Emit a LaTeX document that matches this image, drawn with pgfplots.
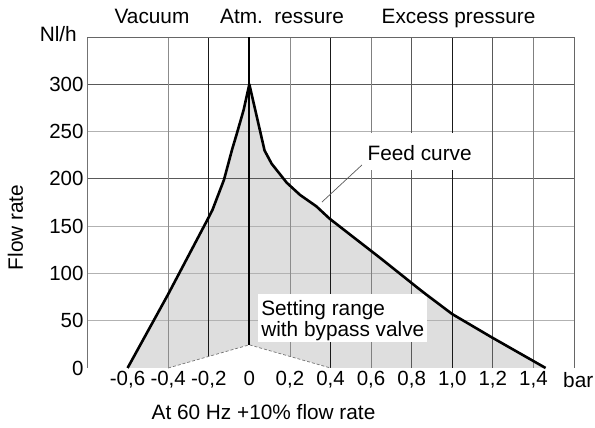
\documentclass[border=0pt]{standalone}
\usepackage{pgfplots}
\usepackage{pgfplotstable}
\pgfplotsset{compat=1.18}
\usepackage{fontspec}
\setmainfont{Liberation Sans}
\pgfplotstableread{
x y
-0.6 0
-0.4 78
-0.206 157
-0.182 167
-0.125 199
-0.085 231
-0.06 249
-0.028 273
0 300
0.029 273
0.075 230
0.11 216
0.184 196
0.25 183
0.33 171
0.395 158
0.647 116
0.834 84
0.87 78
1.0 57
1.19 33
1.46 0
}\curve
\begin{document}
\begin{tikzpicture}[font=\fontsize{20.8bp}{24bp}\selectfont]
\begin{axis}[
  at={(0,0)}, anchor=south west,
  scale only axis, width=487bp, height=331bp,
  xmin=-0.8, xmax=1.6, ymin=0, ymax=350,
  axis line style={draw=none},
  tick style={draw=none},
  xtick={-0.6,-0.4,-0.2,0,0.2,0.4,0.6,0.8,1.0,1.2,1.4},
  xticklabels={{-0,6},{-0,4},{-0,2},{0},{0,2},{0,4},{0,6},{0,8},{1,0},{1,2},{1,4}},
  ytick={0,50,100,150,200,250,300},
  yticklabels={0,50,100,150,200,250,300},
  tick label style={font=\fontsize{20.5bp}{24bp}\selectfont},
  clip=false,
]
% shaded area
\addplot[fill=black!13, draw=none] table {\curve} \closedcycle;
% horizontal grid
\draw[black!30, line width=0.8pt] (axis cs:-0.8,50) -- (axis cs:1.6,50);
\draw[black!30, line width=0.8pt] (axis cs:-0.8,100) -- (axis cs:1.6,100);
\draw[black!30, line width=0.8pt] (axis cs:-0.8,150) -- (axis cs:1.6,150);
\draw[black!65, line width=0.8pt] (axis cs:-0.8,200) -- (axis cs:1.6,200);
\draw[black!30, line width=0.8pt] (axis cs:-0.8,250) -- (axis cs:1.6,250);
\draw[black!65, line width=0.8pt] (axis cs:-0.8,300) -- (axis cs:1.6,300);
% vertical grid
\draw[black!55, line width=0.8pt] (axis cs:-0.8,0) -- (axis cs:-0.8,350);
\draw[black!45, line width=0.8pt] (axis cs:-0.4,0) -- (axis cs:-0.4,350);
\draw[black!90, line width=0.9pt] (axis cs:-0.2,0) -- (axis cs:-0.2,350);
\draw[black!45, line width=0.8pt] (axis cs:0.2,0) -- (axis cs:0.2,350);
\draw[black!90, line width=0.9pt] (axis cs:0.4,0) -- (axis cs:0.4,350);
\draw[black!50, line width=0.8pt] (axis cs:0.6,0) -- (axis cs:0.6,350);
\draw[black!65, line width=0.8pt] (axis cs:0.8,0) -- (axis cs:0.8,350);
\draw[black!90, line width=0.9pt] (axis cs:1.0,0) -- (axis cs:1.0,350);
\draw[black!65, line width=0.8pt] (axis cs:1.2,0) -- (axis cs:1.2,350);
\draw[black!50, line width=0.8pt] (axis cs:1.4,0) -- (axis cs:1.4,350);
\draw[black!60, line width=0.8pt] (axis cs:1.6,0) -- (axis cs:1.6,350);
\draw[black!60, line width=0.8pt] (axis cs:-0.8,350) -- (axis cs:1.6,350);
% white triangle below the bypass setting range
\addplot[fill=white, draw=none] coordinates {(-0.4,0) (0,24.5) (0.4,0)} \closedcycle;
\addplot[black!55, densely dashed, line width=0.7pt] coordinates {(-0.4,0) (0,24.5) (0.4,0)};
% label boxes
\fill[white] (axis cs:0.043,27.5) rectangle (axis cs:0.875,78.5);
\fill[white] (axis cs:0.578,209.4) rectangle (axis cs:1.108,248.5);
\node[anchor=base west, inner sep=0pt] at (axis cs:0.058,56) {Setting range};
\node[anchor=base west, inner sep=0pt] at (axis cs:0.058,32.8) {with bypass valve};
\node[anchor=base west, inner sep=0pt] at (axis cs:0.582,219.9) {Feed curve};
\draw[black!65, line width=0.7pt] (axis cs:0.555,214.7) -- (axis cs:0.358,175.5);
% atmospheric line
\addplot[black, line width=2.2pt] coordinates {(0,24.5) (0,350)};
% feed curve
\addplot[black, line width=2.6pt, line join=round] table {\curve};
\end{axis}
\node[anchor=base, inner sep=0pt] at (65bp,344bp) {Vacuum};
\node[anchor=base, inner sep=0pt] at (195bp,344bp) {Atm.\ \ ressure};
\node[anchor=base, inner sep=0pt] at (371.5bp,344bp) {Excess pressure};
\node[anchor=base east, inner sep=0pt] at (-10bp,326bp) {Nl/h};
\node[rotate=90, anchor=base, inner sep=0pt] at (-64bp,140.5bp) {Flow rate};
\node[anchor=base, inner sep=0pt] at (176.5bp,-51bp) {At 60 Hz +10\% flow rate};
\node[anchor=base west, inner sep=0pt] at (476bp,-19bp) {bar};
\pgfresetboundingbox
\path[use as bounding box] (-87bp,-60bp) rectangle (508bp,368bp);
\end{tikzpicture}
\end{document}
